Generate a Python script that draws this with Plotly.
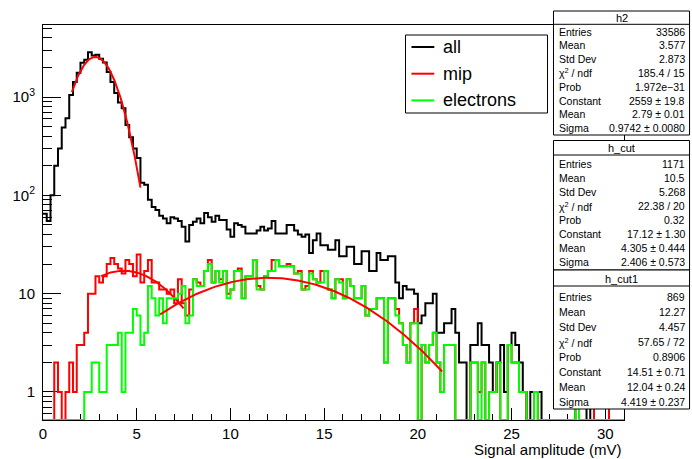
import numpy as np
import plotly.graph_objects as go

# ---------------- data ----------------
bin_width = 0.2
x_min, x_max = 0.0, 31.0

all_counts = [
    65, 55, 100, 200, 300, 490, 610, 1050, 1420, 1770,
    2230, 2400, 2850, 2650, 2700, 2450, 2250, 1800, 1420, 1100,
    880, 770, 520, 390, 300, 240, 134, 128, 90, 76,
    71, 62, 58, 52, 60, 58, 55, 48, 34, 50,
    54, 58, 52, 66, 60, 54, 62, 56, 56, 45,
    38, 52, 50, 48, 41, 41, 41, 44, 48, 44,
    46, 55, 41, 41, 41, 50, 50, 44, 40, 38,
    40, 26, 35, 41, 31, 31, 28, 28, 35, 24,
    24, 30, 30, 20, 20, 27, 27, 17, 17, 26,
    22, 22, 24, 24, 13, 9, 12, 11, 11, 10,
    5, 6, 8, 8, 10, 4, 4, 5, 5, 7,
    4, 2, 2, 0, 3, 3, 5, 3, 3, 2,
    1, 2, 3, 1, 3, 4, 3, 2, 1, 0,
    1, 1, 1, 0, 0, 0, 0, 0, 0, 0,
    0, 0, 1, 0, 0, 1, 0, 1, 1, 1,
    1, 0, 0, 0, 0,
]

mip_counts = [
    0, 0, 0, 2, 1, 0, 1, 2, 1, 3,
    3, 4, 10, 10, 15, 13, 15, 20, 23, 20,
    18, 16, 22, 20, 15, 25, 13, 17, 22, 13,
    13, 11, 11, 10, 11, 8, 14, 8, 6, 11,
    14, 13, 12, 17, 22, 13, 17, 14, 17, 10,
    11, 17, 18, 9, 15, 15, 22, 12, 11, 15,
    17, 22, 22, 19, 19, 20, 19, 16, 17, 11,
    12, 17, 14, 13, 17, 17, 11, 9, 14, 14,
    9, 14, 12, 9, 9, 12, 6, 7, 7, 9,
    9, 2, 9, 9, 7, 5, 3, 2, 5, 7,
    0, 3, 2, 3, 4, 2, 1, 3, 3, 3,
    0, 0, 0, 0, 2, 2, 1, 2, 0, 1,
    1, 2, 0, 0, 3, 2, 2, 1, 1, 0,
    0, 1, 0, 0, 0, 0, 0, 0, 0, 0,
    0, 0, 1, 0, 0, 0, 0, 1, 1, 1,
    1, 0, 0, 0, 0,
]

electron_counts = [
    0, 0, 0, 0, 0, 0, 0, 0, 0, 0,
    0, 1, 1, 2, 2, 1, 1, 3, 3, 3,
    4, 1, 4, 4, 7, 6, 3, 4, 12, 9,
    6, 9, 5, 9, 9, 9, 10, 12, 5, 6,
    14, 12, 12, 17, 20, 13, 17, 13, 17, 9,
    11, 17, 17, 9, 15, 15, 22, 11, 11, 15,
    17, 17, 22, 19, 19, 19, 19, 16, 16, 11,
    11, 16, 14, 13, 13, 17, 11, 9, 14, 13,
    9, 14, 12, 9, 9, 12, 6, 7, 7, 9,
    9, 2, 9, 9, 6, 5, 3, 2, 5, 5,
    0, 3, 2, 3, 4, 2, 1, 3, 3, 3,
    0, 0, 0, 0, 2, 2, 0, 2, 0, 1,
    1, 2, 0, 0, 3, 2, 2, 1, 1, 0,
    0, 1, 0, 0, 0, 0, 0, 0, 0, 0,
    0, 0, 1, 0, 0, 0, 0, 0, 0, 0,
    0, 0, 0, 0, 0,
]

# Gaussian fit parameters (from the stat boxes) and fit ranges
fit_names = ["h2", "h_cut", "h_cut1"]
fit_constant = [2559.0, 17.12, 14.51]
fit_mean = [2.79, 4.305, 12.04]
fit_sigma = [0.9742, 2.406, 4.419]
fit_lo = [1.54, 3.1, 6.25]
fit_hi = [5.2, 7.5, 21.3]

legend_labels = ["all", "mip", "electrons"]
series_colors = ["#000000", "#ff0000", "#00ff00"]

stat_rows = [
    ("h2", [("Entries", "33586"), ("Mean", "3.577"), ("Std Dev", "2.873"),
            ("χ<sup>2</sup> / ndf", "185.4 / 15"), ("Prob", "1.972e−31"),
            ("Constant", "2559 ± 19.8"), ("Mean", "2.79 ± 0.01"),
            ("Sigma", "0.9742 ± 0.0080")]),
    ("h_cut", [("Entries", "1171"), ("Mean", "10.5"), ("Std Dev", "5.268"),
               ("χ<sup>2</sup> / ndf", "22.38 / 20"), ("Prob", "0.32"),
               ("Constant", "17.12 ± 1.30"), ("Mean", "4.305 ± 0.444"),
               ("Sigma", "2.406 ± 0.573")]),
    ("h_cut1", [("Entries", "869"), ("Mean", "12.27"), ("Std Dev", "4.457"),
                ("χ<sup>2</sup> / ndf", "57.65 / 72"), ("Prob", "0.8906"),
                ("Constant", "14.51 ± 0.71"), ("Mean", "12.04 ± 0.24"),
                ("Sigma", "4.419 ± 0.237")]),
]

# ---------------- layout geometry (pixels) ----------------
W, H = 692, 459
L, R, T, B = 39, 624, 25, 420
y_range = [-0.285, 3.733]
FONT = "Liberation Sans, Arial, Helvetica, sans-serif"


def px(xp):
    return (xp - L) / (R - L)


def py(yp):
    return (B - yp) / (B - T)


floor_val = 10 ** y_range[0]


def step_xy(counts):
    c = np.asarray(counts, dtype=float)
    edges = x_min + bin_width * np.arange(len(c) + 1)
    y = np.where(c > 0, c, floor_val)
    return edges, np.append(y, y[-1])


fig = go.Figure()

hists = [all_counts, mip_counts, electron_counts]
for k, counts in enumerate(hists):
    xs, ys = step_xy(counts)
    fig.add_trace(go.Scatter(x=xs, y=ys, mode="lines", line_shape="hv",
                             line=dict(color=series_colors[k], width=2),
                             name=legend_labels[k], showlegend=False,
                             hoverinfo="skip"))
    xf = np.linspace(fit_lo[k], fit_hi[k], 200)
    yf = fit_constant[k] * np.exp(-0.5 * ((xf - fit_mean[k]) / fit_sigma[k]) ** 2)
    fig.add_trace(go.Scatter(x=xf, y=yf, mode="lines",
                             line=dict(color="#ff0000", width=2),
                             showlegend=False, hoverinfo="skip"))

shapes = []
annotations = []

# legend box
lg = dict(x0=404, x1=547, y0=35, y1=113)
shapes.append(dict(type="rect", xref="paper", yref="paper",
                   x0=px(lg["x0"]), x1=px(lg["x1"]), y0=py(lg["y1"]), y1=py(lg["y0"]),
                   line=dict(color="black", width=1), fillcolor="white", layer="above"))
for k, lab in enumerate(legend_labels):
    yc = 47 + k * 26.7
    shapes.append(dict(type="line", xref="paper", yref="paper",
                       x0=px(410), x1=px(433), y0=py(yc), y1=py(yc),
                       line=dict(color=series_colors[k], width=2), layer="above"))
    annotations.append(dict(text=lab, xref="paper", yref="paper", x=px(440), y=py(yc),
                            xanchor="left", yanchor="middle", showarrow=False,
                            font=dict(family=FONT, size=18, color="black")))

# stat boxes
box_geo = [
    dict(top=11, sep=24.3, bottom=135, first=31.7, step=13.76, title=18),
    dict(top=140.5, sep=155, bottom=270, first=164, step=14.0, title=148),
    dict(top=270, sep=286, bottom=409, first=297, step=15.0, title=278.5),
]
bx0, bx1 = 553, 690
for (name, rows), g in zip(stat_rows, box_geo):
    shapes.append(dict(type="rect", xref="paper", yref="paper",
                       x0=px(bx0), x1=px(bx1), y0=py(g["bottom"]), y1=py(g["top"]),
                       line=dict(color="black", width=1), fillcolor="white", layer="above"))
    shapes.append(dict(type="line", xref="paper", yref="paper",
                       x0=px(bx0), x1=px(bx1), y0=py(g["sep"]), y1=py(g["sep"]),
                       line=dict(color="black", width=1), layer="above"))
    annotations.append(dict(text=name, xref="paper", yref="paper",
                            x=px((bx0 + bx1) / 2), y=py(g["title"]),
                            xanchor="center", yanchor="middle", showarrow=False,
                            font=dict(family=FONT, size=11, color="black")))
    for i, (lab, val) in enumerate(rows):
        yc = g["first"] + i * g["step"]
        annotations.append(dict(text=lab, xref="paper", yref="paper", x=px(557), y=py(yc),
                                xanchor="left", yanchor="middle", showarrow=False,
                                font=dict(family=FONT, size=10.5, color="black")))
        annotations.append(dict(text=val, xref="paper", yref="paper", x=px(687), y=py(yc),
                                xanchor="right", yanchor="middle", showarrow=False,
                                font=dict(family=FONT, size=10.5, color="black")))

# x axis title
annotations.append(dict(text="Signal amplitude (mV)", xref="paper", yref="paper",
                        x=1, y=0, xanchor="right", yanchor="top", yshift=-19,
                        showarrow=False, font=dict(family=FONT, size=15, color="black")))

y_major = [1, 10, 100, 1000]
y_major_text = ["1", "10", "10<sup>2</sup>", "10<sup>3</sup>"]
y_minor = [0.6, 0.7, 0.8, 0.9] + [m * 10 ** e for e in range(0, 3) for m in range(2, 10)] + [2000, 3000, 4000, 5000]

fig.update_layout(
    width=W, height=H,
    margin=dict(l=L, r=W - R, t=T, b=H - B, pad=0),
    paper_bgcolor="white", plot_bgcolor="white",
    showlegend=False,
    shapes=shapes, annotations=annotations,
    font=dict(family=FONT, color="black"),
)
fig.update_xaxes(range=[x_min, x_max], showline=True, linecolor="black", linewidth=1,
                 mirror=True, ticks="inside", ticklen=12, tickwidth=1, tickcolor="black",
                 tick0=0, dtick=5, showgrid=False, zeroline=False,
                 minor=dict(ticks="inside", ticklen=6, dtick=1, tickcolor="black", tickwidth=1),
                 tickfont=dict(family=FONT, size=15, color="black"), layer="below traces")
fig.update_yaxes(type="log", range=y_range, showline=True, linecolor="black", linewidth=1,
                 mirror=True, ticks="inside", ticklen=18, tickwidth=1, tickcolor="black",
                 tickmode="array", tickvals=y_major, ticktext=y_major_text,
                 minor=dict(ticks="inside", ticklen=9, tickmode="array", tickvals=y_minor,
                            tickcolor="black", tickwidth=1),
                 showgrid=False, zeroline=False, ticklabelstandoff=4,
                 tickfont=dict(family=FONT, size=15, color="black"), layer="below traces")

fig.write_html("out.html")
